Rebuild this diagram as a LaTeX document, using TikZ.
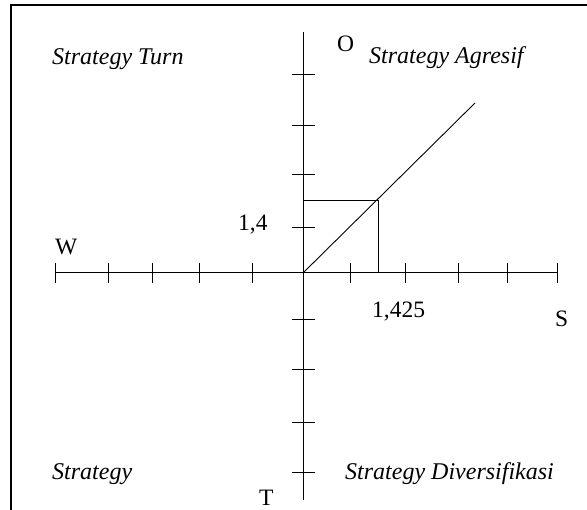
\documentclass[tikz,border=0pt]{standalone}
\usepackage{fontspec}
\setmainfont{Liberation Serif}
\usepackage{tikz}

\begin{document}
\begin{tikzpicture}[x=1pt, y=-1pt,
    quadrant/.style={anchor=base west, inner sep=0pt, font=\fontsize{24}{28}\selectfont\itshape},
    axislabel/.style={anchor=base west, inner sep=0pt, font=\fontsize{23.5}{28}\selectfont},
    axisline/.style={line width=1pt},
    plotline/.style={line width=0.9pt}]
    \useasboundingbox (0,0) rectangle (587,510);

    % Frame
    \draw[line width=2.4pt] (11,510) -- (11,5) -- (587,5);

    % Axes
    \coordinate (origin) at (303,273);
    \coordinate (west) at (55,273);
    \coordinate (east) at (557,273);
    \coordinate (north) at (303,32);
    \coordinate (south) at (303,500);
    \draw[axisline] (west) -- (east);
    \draw[axisline] (north) -- (south);

    % Ticks
    \foreach \x in {55,108,152,199,252,350,405,458,507,557}
        \draw[axisline] (\x,263) -- (\x,283);
    \foreach \y in {75,126,175,228,320,370,423,473}
        \draw[axisline] (292,\y) -- (315,\y);

    % Position point
    \coordinate (point) at (378,200);
    \coordinate (lineend) at (475,103);
    \draw[plotline] (origin) -- (lineend);
    \draw[plotline] (origin |- point) -- (point) -- (point |- origin);

    % Axis labels
    \node[axislabel] (olabel) at (337,52) {O};
    \node[axislabel] (wlabel) at (55,255) {W};
    \node[axislabel] (slabel) at (555,327) {S};
    \node[axislabel] (tlabel) at (259,506) {T};
    \node[axislabel] (ylabel) at (238,231) {1,4};
    \node[axislabel] (xlabel) at (372,318) {1,425};

    % Quadrants
    \node[quadrant] (turn) at (52,65) {Strategy Turn};
    \node[quadrant] (agresif) at (369,64) {Strategy Agresif};
    \node[quadrant] (defensif) at (52,480) {Strategy};
    \node[quadrant] (diversifikasi) at (345,480) {Strategy Diversifikasi};
\end{tikzpicture}
\end{document}
